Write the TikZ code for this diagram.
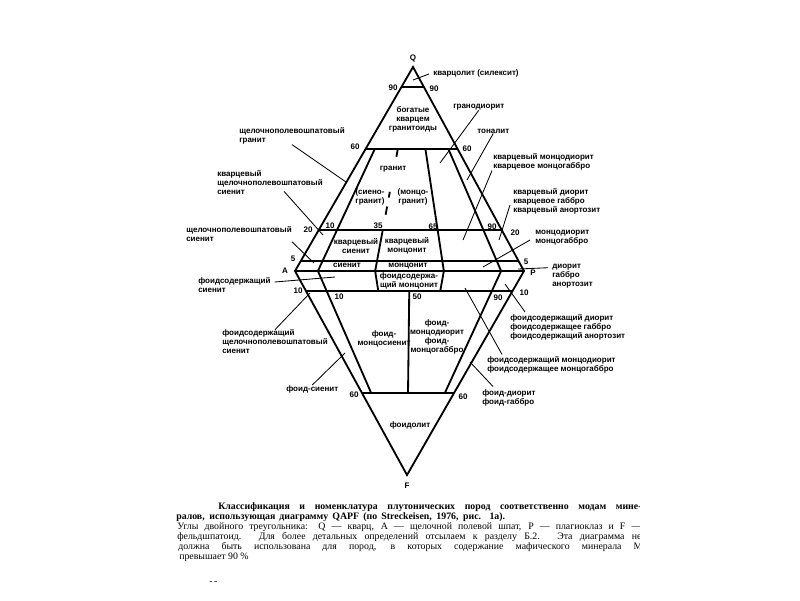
\documentclass[tikz,border=0pt]{standalone}
\usepackage{fontspec}
\setmainfont{Liberation Serif}
\setsansfont{Liberation Sans}
\usetikzlibrary{calc}

\newcommand{\lbf}{\sffamily\bfseries\fontsize{5.7}{6.4}\selectfont}
\newcommand{\cpf}{\rmfamily\fontsize{7}{8}\selectfont}

\begin{document}
\begin{tikzpicture}[
  x=0.025cm, y=-0.025cm,
  edge/.style={line width=1.3pt, line join=miter},
  leader/.style={line width=0.6pt},
  lbl/.style={font=\lbf, align=left, inner sep=0pt, anchor=west},
  fld/.style={font=\lbf, align=center, inner sep=0pt},
  num/.style={font=\lbf, inner sep=0pt},
  capline/.style={font=\cpf, inner sep=0pt, anchor=base west}
]
\useasboundingbox (0,0) rectangle (800,600);

\coordinate (Q) at (413,67);
\coordinate (A) at (295,271);
\coordinate (P) at (524,271);
\coordinate (F) at (407,475);

% upper triangle
\coordinate (q90a) at (barycentric cs:Q=.9,A=.1);
\coordinate (q90p) at (barycentric cs:Q=.9,P=.1);
\coordinate (q60a) at (barycentric cs:Q=.6,A=.4);
\coordinate (q60p) at (barycentric cs:Q=.6,P=.4);
\coordinate (q60b) at (barycentric cs:Q=.6,A=.36,P=.04);
\coordinate (q60c) at (barycentric cs:Q=.6,A=.26,P=.14);
\coordinate (q60d) at (barycentric cs:Q=.6,A=.14,P=.26);
\coordinate (q60e) at (barycentric cs:Q=.6,A=.04,P=.36);
\coordinate (q20a) at (barycentric cs:Q=.2,A=.8);
\coordinate (q20p) at (barycentric cs:Q=.2,P=.8);
\coordinate (q20c) at (barycentric cs:Q=.2,A=.52,P=.28);
\coordinate (q05a) at (barycentric cs:Q=.05,A=.95);
\coordinate (q05p) at (barycentric cs:Q=.05,P=.95);
\coordinate (apb) at (barycentric cs:A=.9,P=.1);
\coordinate (apc) at (barycentric cs:A=.65,P=.35);
\coordinate (apd) at (barycentric cs:A=.35,P=.65);
\coordinate (ape) at (barycentric cs:A=.1,P=.9);
% lower triangle
\coordinate (f10a) at (barycentric cs:F=.1,A=.9);
\coordinate (f10p) at (barycentric cs:F=.1,P=.9);
\coordinate (f10c) at (barycentric cs:F=.1,A=.585,P=.315);
\coordinate (f10d) at (barycentric cs:F=.1,A=.315,P=.585);
\coordinate (f10m) at (barycentric cs:F=.1,A=.45,P=.45);
\coordinate (f60a) at (barycentric cs:F=.6,A=.4);
\coordinate (f60p) at (barycentric cs:F=.6,P=.4);
\coordinate (f60b) at (barycentric cs:F=.6,A=.36,P=.04);
\coordinate (f60m) at (barycentric cs:F=.6,A=.2,P=.2);
\coordinate (f60e) at (barycentric cs:F=.6,A=.04,P=.36);

\draw[edge] (Q) -- (A) -- (F) -- (P) -- cycle;
\draw[edge] (A) -- (P);
\draw[edge] (q90a) -- (q90p);
\draw[edge] (q60a) -- (q60p);
\draw[edge] (q20a) -- (q20p);
\draw[edge] (q05a) -- (q05p);
\draw[edge] (f10a) -- (f10p);
\draw[edge] (f60a) -- (f60p);
\draw[edge] (q60b) -- (apb) -- (f60b);
\draw[edge] (q60e) -- (ape) -- (f60e);
\draw[edge] (q20c) -- (apc) -- (f10c);
\draw[edge] (q60d) -- (apd) -- (f10d);
\draw[edge] (f10m) -- (f60m);
\draw[edge] ($(q60c)!0!(q20c)$) -- ($(q60c)!.1!(q20c)$);
\draw[edge] ($(q60c)!.53!(q20c)$) -- ($(q60c)!.6!(q20c)$);
\draw[edge] ($(q60c)!.71!(q20c)$) -- ($(q60c)!.81!(q20c)$);

% corner and boundary values
\node[num] (nQ) at (413,58) {Q};
\node[num] (nA) at (285,271) {A};
\node[num] (nP) at (533,273) {P};
\node[num] (nF) at (407,486) {F};
\node[num] at (393,88) {90};
\node[num] at (434,89) {90};
\node[num] at (355,147) {60};
\node[num] at (467,149) {60};
\node[num] at (308,230) {20};
\node[num] at (330,226) {10};
\node[num] at (378,226) {35};
\node[num] at (433,227) {65};
\node[num] at (492,227) {90};
\node[num] at (515,233) {20};
\node[num] at (293,259) {5};
\node[num] at (526,262) {5};
\node[num] at (298,291) {10};
\node[num] at (339,297) {10};
\node[num] at (417,297) {50};
\node[num] at (498,298) {90};
\node[num] at (524,293) {10};
\node[num] at (354,395) {60};
\node[num] at (463,397) {60};

% field names
\node[fld] (fRich) at (413,119) {богатые\\кварцем\\гранитоиды};
\node[fld] (fGr) at (393,169) {гранит};
\node[fld] (fSg) at (370,197) {(сиено-\\гранит)};
\node[fld] (fMg) at (413,197) {(монцо-\\гранит)};
\node[fld] (fQs) at (356,246) {кварцевый\\сиенит};
\node[fld] (fQm) at (407,246) {кварцевый\\монцонит};
\node[fld] (fS) at (347,265) {сиенит};
\node[fld] (fM) at (408,266) {монцонит};
\node[fld] (fFm) at (409,281) {фоидсодержа-\\щий монцонит};
\node[fld] (fFms) at (384,339) {фоид-\\монцосиенит};
\node[fld] (fFmd) at (437,337) {фоид-\\монцодиорит\\фоид-\\монцогаббро};
\node[fld] (fFo) at (410,425) {фоидолит};

% outer labels
\node[lbl] (lqz) at (433,73) {кварцолит (силексит)};
\node[lbl] (lagr) at (239,136) {щелочнополевошпатовый\\гранит};
\node[lbl] (lqas) at (217,183) {кварцевый\\щелочнополевошпатовый\\сиенит};
\node[lbl] (lafs) at (186,234) {щелочнополевошпатовый\\сиенит};
\node[lbl] (lfs) at (198,285) {фоидсодержащий\\сиенит};
\node[lbl] (lfas) at (222,342) {фоидсодержащий\\щелочнополевошпатовый\\сиенит};
\node[lbl] (lfsy) at (286,389) {фоид-сиенит};
\node[lbl] (lgd) at (453,107) {гранодиорит};
\node[lbl] (lton) at (477,131) {тоналит};
\node[lbl] (lqmd) at (493,162) {кварцевый монцодиорит\\кварцевое монцогаббро};
\node[lbl] (lqd) at (513,201) {кварцевый диорит\\кварцевое габбро\\кварцевый анортозит};
\node[lbl] (lmd) at (535,238) {монцодиорит\\монцогаббро};
\node[lbl] (ldi) at (552,276) {диорит\\габбро\\анортозит};
\node[lbl] (lfd) at (510,327) {фоидсодержащий диорит\\фоидсодержащее габбро\\фоидсодержащий анортозит};
\node[lbl] (lfmd) at (487,365) {фоидсодержащий монцодиорит\\фоидсодержащее монцогаббро};
\node[lbl] (lfdi) at (482,398) {фоид-диорит\\фоид-габбро};

% leader targets
\coordinate (tQz) at (413,80);
\coordinate (tAgr) at (346,182);
\coordinate (tQas) at (323,235);
\coordinate (tAfs) at (314,263);
\coordinate (tFs) at (335,277);
\coordinate (tFas) at (310,293);
\coordinate (tFsy) at (345,353);
\coordinate (tGd) at (440,163);
\coordinate (tTon) at (467,180);
\coordinate (tQmd) at (463,240);
\coordinate (tQd) at (499,240);
\coordinate (tMd) at (483,267);
\coordinate (tDi) at (518,269);
\coordinate (tFd) at (505,284);
\coordinate (tFmd) at (465,288);
\coordinate (tFdi) at (470,362);

\draw[leader] ($(lqz.west)+(-4,1)$) -- (tQz);
\draw[leader] (lagr.south) -- (tAgr);
\draw[leader] ($(lqas.south)+(14,-4)$) -- (tQas);
\draw[leader] (lafs.south east) -- (tAfs);
\draw[leader] ($(lfs.east)+(4,-3)$) -- (tFs);
\draw[leader] (lfas.north) -- (tFas);
\draw[leader] (lfsy.north) -- (tFsy);
\draw[leader] (lgd.south) -- (tGd);
\draw[leader] (lton.south) -- (tTon);
\draw[leader] ($(lqmd.south west)+(-1,0)$) -- (tQmd);
\draw[leader] ($(lqd.west)+(-3,4)$) -- (tQd);
\draw[leader] ($(lmd.west)+(-5,2)$) -- (tMd);
\draw[leader] ($(ldi.north west)+(-4,4)$) -- (tDi);
\draw[leader] ($(lfd.north west)+(15,-2)$) -- (tFd);
\draw[leader] ($(lfmd.north west)+(15,-2)$) -- (tFmd);
\draw[leader] ($(lfdi.north west)+(11,-3)$) -- (tFdi);

% caption
\begin{scope}
\clip (0,495) rectangle (639,600);
\node[capline] (c1) at (218,509) {\bfseries\makebox[10.58cm][s]{Классификация и номенклатура плутонических пород соответственно модам мине-}};
\node[capline] (c2) at (176,519) {\bfseries\makebox[8.22cm][s]{ралов, использующая диаграмму QAPF (по Streckeisen, 1976, рис. 1а).}};
\node[capline] (c3) at (177,529) {\makebox[11.6cm][s]{Углы двойного треугольника: Q — кварц, A — щелочной полевой шпат, P — плагиоклаз и F —}};
\node[capline] (c4) at (177,539) {\makebox[11.6cm][s]{фельдшпатоид. Для более детальных определений отсылаем к разделу Б.2. Эта диаграмма не}};
\node[capline] (c5) at (178,549) {\makebox[11.6cm][s]{должна быть использована для пород, в которых содержание мафического минерала М}};
\node[capline] (c6) at (179,559) {превышает 90 \%};
\node[capline] (c7) at (209,584) {-\,-};
\end{scope}
\end{tikzpicture}
\end{document}
